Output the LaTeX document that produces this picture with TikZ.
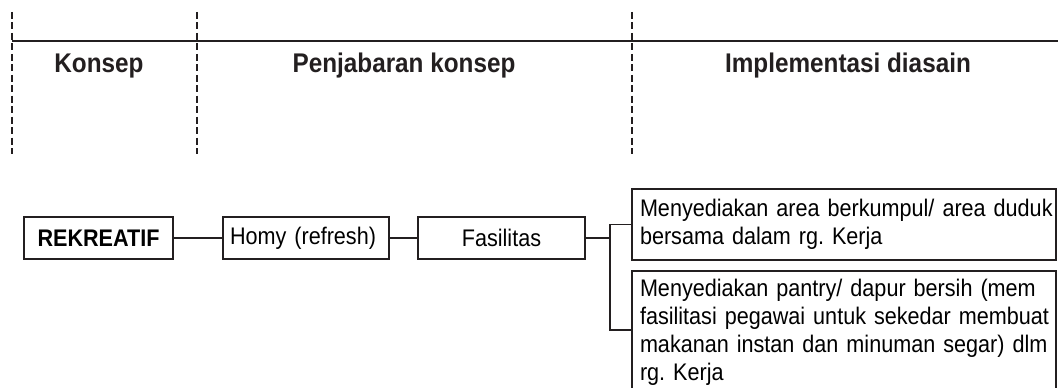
\documentclass[tikz,border=0pt]{standalone}
\usepackage{fontspec}
\setmainfont{Liberation Sans}[FakeStretch=0.9]
\usetikzlibrary{positioning}
\definecolor{ink}{RGB}{35,31,32}
\newcommand{\oneline}[1]{\mbox{#1}}
\tikzset{
	conbox/.style = {draw = ink, line width = 1.1pt, minimum height = 31.5pt, inner sep = 0pt, outer sep = 0pt, font = \fontsize{18}{21}\selectfont},
	ideabox/.style = {draw = ink, line width = 1.1pt, anchor = north west, align = left, text width = 306pt, inner xsep = 6pt, outer sep = 0pt, font = \fontsize{18}{21}\selectfont\frenchspacing},
	conline/.style = {ink, line width = 1.7pt},
	branch/.style = {ink, line width = 1.1pt},
	divider/.style = {ink, line width = 1.5pt, dash pattern = on 5.25pt off 2.6pt},
	headtext/.style = {anchor = base, text = ink, font = \fontsize{20.25}{24}\selectfont\bfseries},
}
\begin{document}
\begin{tikzpicture}[x = 0.75pt, y = -0.75pt]
	\useasboundingbox (0,0) rectangle (1058,388);
	\draw [ink, line width = 2pt] (12,41) -- (1058,41);
	\foreach \x in {12,197,632}{
	\draw [divider] (\x,12) -- (\x,154);
	}
	\node [headtext] (hkonsep) at (99,73) {Konsep};
	\node [headtext] (hjabar) at (404,73) {Penjabaran konsep};
	\node [headtext] (himpl) at (848,73) {Implementasi diasain};
	\node [conbox, minimum width = 111.75pt, font = \fontsize{18}{21}\selectfont\bfseries] (rek) at (98.5,238) {REKREATIF};
	\node [conbox, right = 37.5pt of rek, align = left, text width = 114pt, inner xsep = 5.25pt] (homy) {Homy (refresh)};
	\node [conbox, right = 21.75pt of homy, minimum width = 125.25pt] (fas) {Fasilitas};
	\node [ideabox, minimum height = 53.25pt] (ideaA) at (632,189) {\oneline{Menyediakan area berkumpul/ area duduk}\\\oneline{bersama dalam rg. Kerja}};
	\node [ideabox, inner ysep = 6pt, below = 8.25pt of ideaA.south west, anchor = north west] (ideaB) {\oneline{Menyediakan pantry/ dapur bersih (mem}\\\oneline{fasilitasi pegawai untuk sekedar membuat}\\\oneline{makanan instan dan minuman segar) dlm}\\\oneline{rg. Kerja}};
	\draw [conline] (rek) -- (homy);
	\draw [conline] (homy) -- (fas);
	\draw [conline] (fas.east) -- ++(18.75pt,0) coordinate (split);
	\coordinate (tipB) at (632,330);
	\draw [branch] (ideaA.west) -| (split) |- (tipB);
\end{tikzpicture}
\end{document}
